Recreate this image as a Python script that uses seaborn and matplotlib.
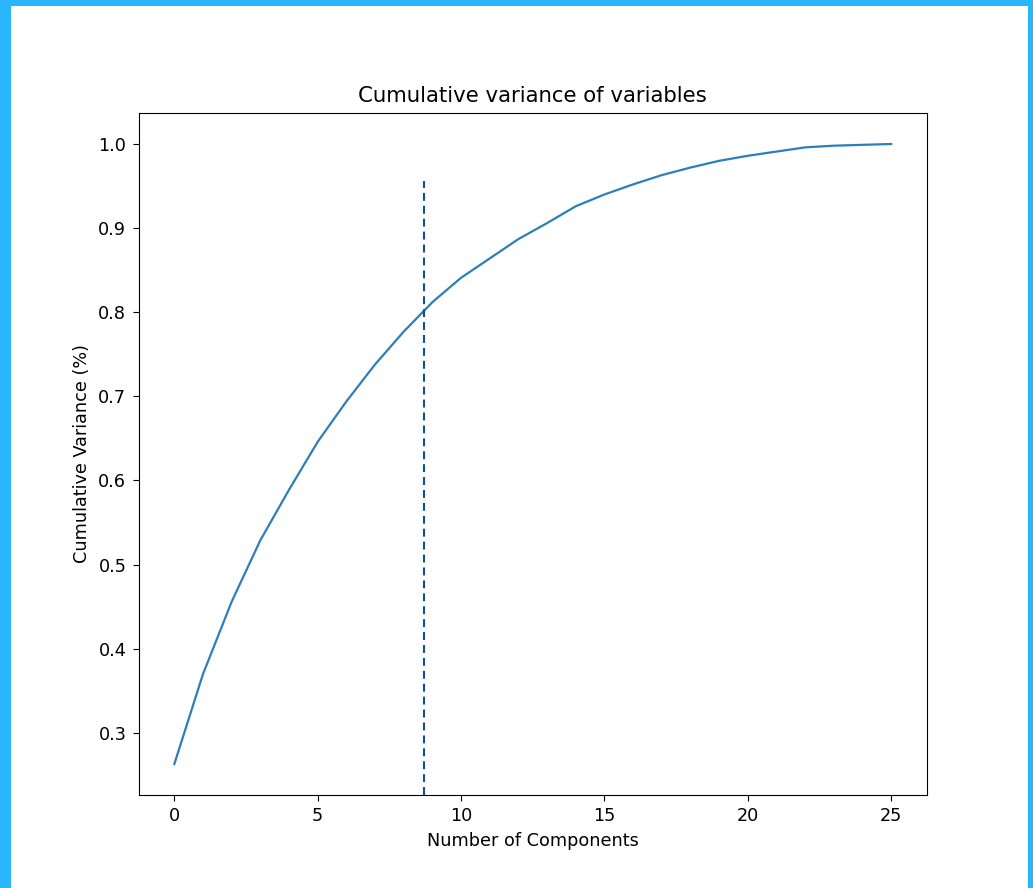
import numpy as np
import pandas as pd
import matplotlib
matplotlib.use("Agg")
import matplotlib.pyplot as plt
import seaborn as sns
from matplotlib.patches import Rectangle

# Values
n_components = list(range(26))
cum_variance = [0.263, 0.370, 0.456, 0.529, 0.589, 0.646, 0.694, 0.738, 0.777, 0.812,
                0.841, 0.864, 0.887, 0.906, 0.926, 0.940, 0.952, 0.963, 0.972, 0.980,
                0.986, 0.991, 0.996, 0.998, 0.999, 1.000]
cutoff = 8.7

df = pd.DataFrame({"components": n_components, "cum_var": cum_variance})

plt.rcParams.update({
    "font.size": 12.7,
    "xtick.major.pad": 4.4,
    "ytick.major.pad": 4.4,
    "xtick.major.size": 4.4,
    "ytick.major.size": 4.4,
    "axes.titlepad": 7.6,
    "axes.labelpad": 5.0,
})

fig = plt.figure(figsize=(10.33, 8.88), dpi=100, facecolor="#29b6fc")
# white canvas inside the blue frame
fig.patches.append(Rectangle((11 / 1033, 0), (1028 - 11) / 1033, (888 - 6) / 888,
                             transform=fig.transFigure, facecolor="white",
                             edgecolor="none", zorder=-10))

ax = fig.add_axes([138.5 / 1033, 93 / 888, (927 - 138.5) / 1033, (795 - 113) / 888])
ax.set_zorder(1)

sns.lineplot(data=df, x="components", y="cum_var", ax=ax, color="#2c7fb8", linewidth=1.6)
ax.axvline(cutoff, ymax=0.9, color="#0b4ea2", linewidth=1.5, linestyle=(0, (3.8, 2.4)))

ax.set_title("Cumulative variance of variables", fontsize=15.3)
ax.set_xlabel("Number of Components")
ax.set_ylabel("Cumulative Variance (%)")

fig.savefig("out.png", dpi=100, facecolor=fig.get_facecolor())
